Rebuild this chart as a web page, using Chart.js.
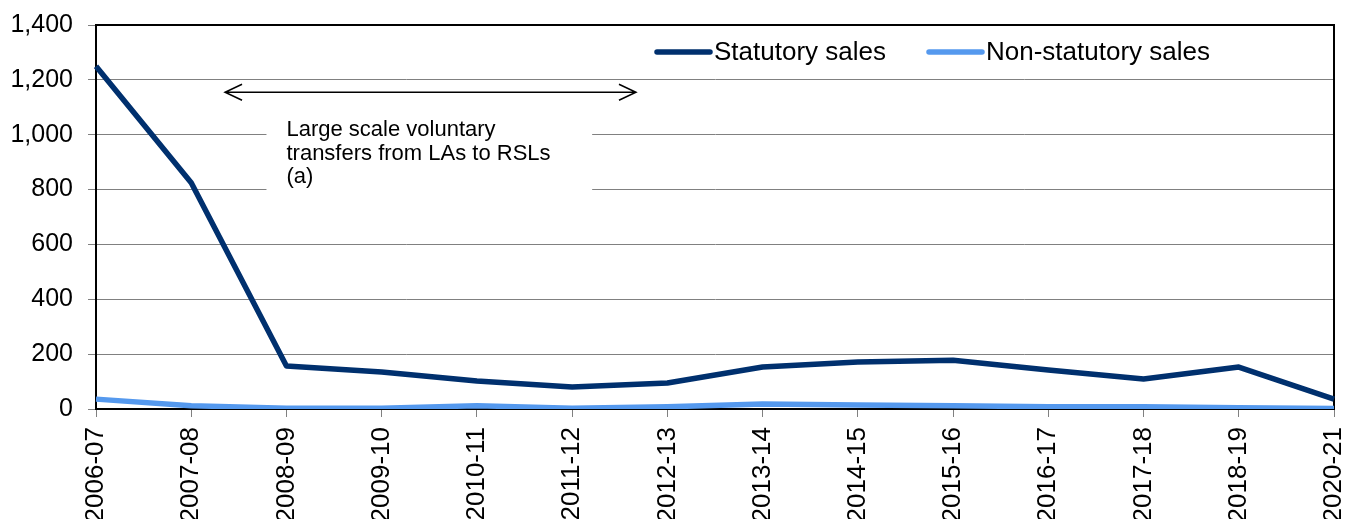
<!DOCTYPE html>
<html>
<head>
<meta charset="utf-8">
<script src="https://cdn.jsdelivr.net/npm/chart.js@4.4.1/dist/chart.umd.min.js"></script>
<style>
  html, body { margin: 0; padding: 0; background: #fff; }
  canvas { display: block; }
</style>
</head>
<body>
<canvas id="salesLine" width="1346" height="519"></canvas>
<script>
// Categories (note: no 2019-20 in the source)
const years = ["2006-07", "2007-08", "2008-09", "2009-10", "2010-11", "2011-12", "2012-13",
  "2013-14", "2014-15", "2015-16", "2016-17", "2017-18", "2018-19", "2020-21"];

// Series values
const statutorySales = [1250, 825, 157, 135, 102, 80, 95, 153, 171, 178, 142, 109, 153, 36];
const nonStatutorySales = [36, 12, 3, 3, 12, 3, 8, 18, 15, 12, 8, 8, 5, 2];

// Axis
const yMin = 0;
const yMax = 1400;
const yStep = 200;

// Annotation text
const noteLines = ["Large scale voluntary", "transfers from LAs to RSLs", "(a)"];

const fontFamily = "Arial, 'Liberation Sans', sans-serif";

// Box round the plot, arrow and note text
const notePlugin = {
    id: 'note',
    beforeDatasetsDraw(chart) {
        const ctx = chart.ctx;
        const x = chart.scales.x;
        const y = chart.scales.y;
        const area = chart.chartArea;
        ctx.save();

        // white box behind the text hides the gridlines
        const bx0 = x.getPixelForValue(1.79);
        const bx1 = x.getPixelForValue(5.21);
        const by0 = y.getPixelForValue(1095);
        const by1 = y.getPixelForValue(792);
        ctx.fillStyle = '#fff';
        ctx.fillRect(bx0, by0, bx1 - bx0, by1 - by0);

        // double headed arrow
        const ax0 = x.getPixelForValue(1.355);
        const ax1 = x.getPixelForValue(5.67);
        const ay = y.getPixelForValue(1155);
        ctx.strokeStyle = '#000';
        ctx.lineWidth = 1.5;
        ctx.beginPath();
        ctx.moveTo(ax0, ay);
        ctx.lineTo(ax1, ay);
        ctx.moveTo(ax0 + 17, ay - 8);
        ctx.lineTo(ax0, ay);
        ctx.lineTo(ax0 + 17, ay + 8);
        ctx.moveTo(ax1 - 17, ay - 8);
        ctx.lineTo(ax1, ay);
        ctx.lineTo(ax1 - 17, ay + 8);
        ctx.stroke();

        // note text
        ctx.fillStyle = '#000';
        ctx.font = "22px " + fontFamily;
        ctx.textAlign = 'left';
        ctx.textBaseline = 'alphabetic';
        const tx = x.getPixelForValue(2);
        let ty = y.getPixelForValue(995);
        noteLines.forEach(line => {
            ctx.fillText(line, tx, ty);
            ty += 23.5;
        });

        // plot frame (top and right edges are black too)
        ctx.lineWidth = 2;
        ctx.strokeRect(area.left, area.top, area.right - area.left, area.bottom - area.top);
        ctx.restore();
    }
};

// Legend drawn inside the plot, top right
const legendPlugin = {
    id: 'insideLegend',
    afterDatasetsDraw(chart) {
        const ctx = chart.ctx;
        const area = chart.chartArea;
        const starts = [area.left + 561, area.left + 833];
        const ly = area.top + 27;
        ctx.save();
        ctx.font = "26px " + fontFamily;
        ctx.textBaseline = 'middle';
        ctx.textAlign = 'left';
        chart.data.datasets.forEach((ds, i) => {
            const sx = starts[i];
            ctx.strokeStyle = ds.borderColor;
            ctx.lineWidth = 5.5;
            ctx.lineCap = 'round';
            ctx.beginPath();
            ctx.moveTo(sx, ly);
            ctx.lineTo(sx + 53, ly);
            ctx.stroke();
            ctx.fillStyle = '#000';
            ctx.fillText(ds.label, sx + 57, ly + 1);
        });
        ctx.restore();
    }
};

const lineData = {
    labels: years,
    datasets: [{
        label: "Statutory sales",
        data: statutorySales,
        borderColor: "#00306E",
        backgroundColor: "#00306E",
        borderWidth: 5.5,
        pointRadius: 0,
        tension: 0,
        borderJoinStyle: 'round'
    }, {
        label: "Non-statutory sales",
        data: nonStatutorySales,
        borderColor: "#5599EE",
        backgroundColor: "#5599EE",
        borderWidth: 5.5,
        pointRadius: 0,
        tension: 0,
        borderJoinStyle: 'round'
    }]
};

let lineCtx = document.getElementById("salesLine").getContext('2d');
new Chart(lineCtx, {
    type: 'line',
    data: lineData,
    plugins: [notePlugin, legendPlugin],
    options: {
        responsive: false,
        maintainAspectRatio: false,
        animation: false,
        devicePixelRatio: 1,
        layout: { padding: { top: 25, right: 12, left: 0, bottom: 0 } },
        plugins: {
            legend: { display: false },
            tooltip: { enabled: false }
        },
        scales: {
            x: {
                offset: false,
                grid: { display: true, drawOnChartArea: false, color: '#808080', tickLength: 8 },
                border: { color: '#000', width: 2 },
                ticks: {
                    color: '#000',
                    font: { family: fontFamily, size: 26 },
                    minRotation: 90,
                    maxRotation: 90,
                    autoSkip: false,
                    padding: 10
                },
                afterFit(scale) {
                    scale.height = 110;
                    scale.paddingLeft = 0;
                    scale.paddingRight = 0;
                }
            },
            y: {
                min: yMin,
                max: yMax,
                grid: { color: '#808080', lineWidth: 1, tickLength: 8 },
                border: { color: '#000', width: 2 },
                ticks: {
                    stepSize: yStep,
                    color: '#000',
                    font: { family: fontFamily, size: 25 },
                    padding: 15,
                    callback: v => v.toLocaleString('en-US')
                },
                afterFit(scale) {
                    scale.width = 96;
                    scale.paddingTop = 0;
                    scale.paddingBottom = 0;
                }
            }
        }
    }
});
</script>
</body>
</html>
